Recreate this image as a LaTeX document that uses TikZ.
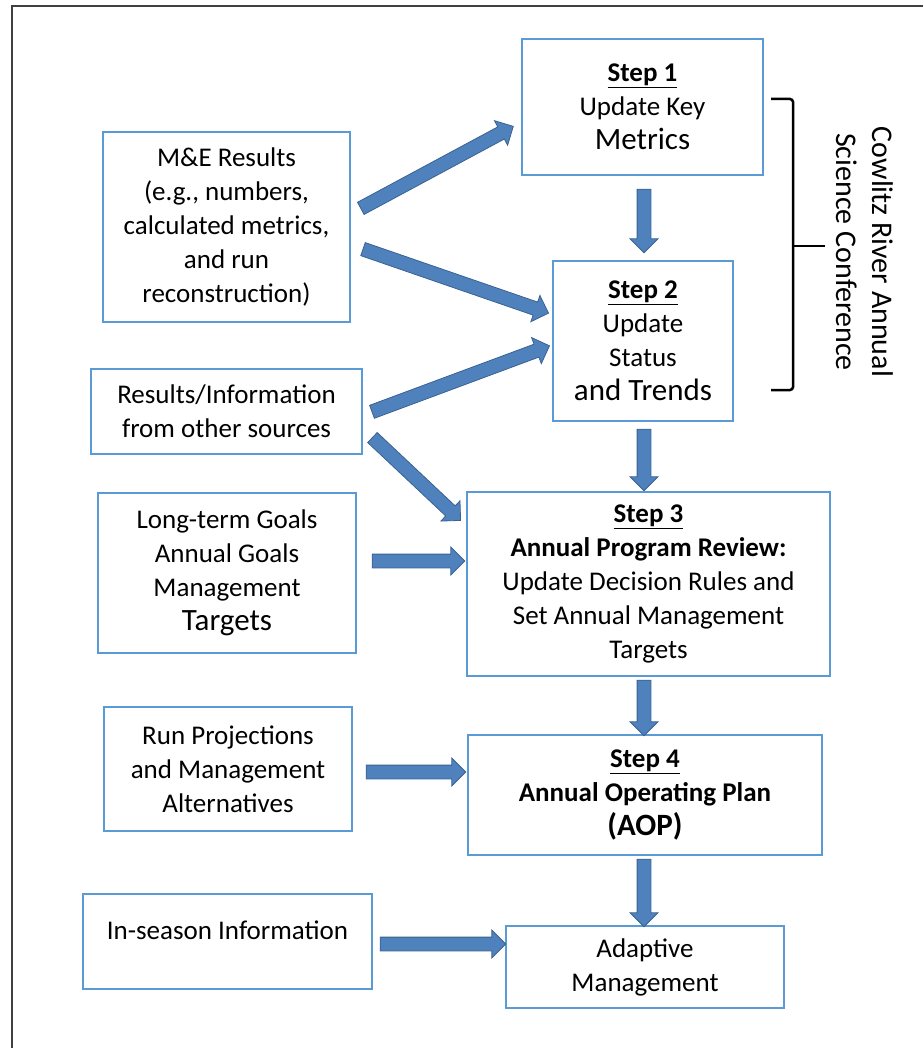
\documentclass[tikz,border=0pt]{standalone}
\usepackage{fontspec}
\setmainfont{Carlito}
\usetikzlibrary{shapes.arrows,calc}

\definecolor{boxblue}{RGB}{91,155,213}
\definecolor{arrowfill}{RGB}{79,129,189}
\definecolor{arrowline}{RGB}{58,98,145}

\tikzset{
	stepbox/.style={draw=boxblue, line width=1.5pt, align=center, inner sep=0pt,
		font=\fontsize{27}{34}\selectfont},
	blockarrow/.style={single arrow, draw=arrowline, fill=arrowfill, line width=0.8pt,
		inner xsep=0pt, inner ysep=6.5pt, single arrow head extend=7pt},
}
\newcommand{\steptitle}[1]{\underline{\textbf{#1}}}
\newcommand{\bigline}[1]{{\fontsize{31}{36}\selectfont #1}}
\newcommand{\flowarrow}[2]{%
	\path let \p1=#1, \p2=#2, \n1={atan2(\y2-\y1,\x2-\x1)}, \n2={veclen(\x2-\x1,\y2-\y1)} in
		node[blockarrow, minimum height=\n2, rotate=\n1] at ($(\p1)!0.5!(\p2)$) {};}

\begin{document}
\begin{tikzpicture}[x=1pt,y=-1pt]
		\useasboundingbox (0,0) rectangle (923,1048);
		\draw[line width=2pt, black!75] (923,6) -- (12,6) -- (12,1048);
		% the four steps
		\node[stepbox, minimum width=241pt, minimum height=136pt] (step1) at (642.5,107)
			{\steptitle{Step 1}\\Update Key\\\bigline{Metrics}};
		\node[stepbox, minimum width=180pt, minimum height=160pt] (step2) at (643,341)
			{\steptitle{Step 2}\\Update\\Status\\\bigline{and Trends}};
		\node[stepbox, minimum width=363pt, minimum height=184pt] (step3) at (648.5,584)
			{\steptitle{Step 3}\\\textbf{Annual Program Review:}\\Update Decision Rules and\\Set Annual Management\\Targets};
		\node[stepbox, minimum width=354pt, minimum height=120pt] (step4) at (645,795)
			{\steptitle{Step 4}\\\textbf{Annual Operating Plan}\\\bigline{\textbf{(AOP)}}};
		\node[stepbox, minimum width=278pt, minimum height=82pt] (adaptive) at (645,967)
			{Adaptive\\Management};
		% inputs on the left
		\node[stepbox, minimum width=247pt, minimum height=190pt] (results) at (226.5,227)
			{M\&E Results\\(e.g., numbers,\\calculated metrics,\\and run\\reconstruction)};
		\node[stepbox, minimum width=271pt, minimum height=85pt] (other) at (226.5,411.5)
			{Results/Information\\from other sources};
		\node[stepbox, minimum width=258pt, minimum height=160pt] (goals) at (227,573)
			{Long-term Goals\\Annual Goals\\Management\\\bigline{Targets}};
		\node[stepbox, minimum width=248pt, minimum height=124pt] (runproj) at (228,769)
			{Run Projections\\and Management\\Alternatives};
		\node[stepbox, minimum width=289pt, minimum height=95pt, text height=19pt, text depth=24pt] (inseason) at (227.5,941.5)
			{In-season Information};
		% bracket and its label
		\draw[line width=2.5pt, rounded corners=3pt] (771,99) -- (793,99) -- (793,390) -- (771,390);
		\draw[line width=2.5pt] (793,246) -- (825,246);
		\node[font=\fontsize{30}{36}\selectfont, align=center, rotate=-90] (conference) at (865,252)
			{Cowlitz River Annual\\Science Conference};
		% arrows
		\flowarrow{($(step1.south)+(1.5,10)$)}{($(step2.north)+(1,-11)$)}
		\flowarrow{($(step2.south)+(1,4)$)}{($(step3.north)+(-4.5,-4)$)}
		\flowarrow{($(step3.south)+(-4.5,0)$)}{($(step4.north)+(-1,-2)$)}
		\flowarrow{($(step4.south)+(-1,0)$)}{($(adaptive.north)+(-1,-2)$)}
		\flowarrow{($(results.east)+(7,-17)$)}{($(step1.west)+(-11,21)$)}
		\flowarrow{($(results.east)+(9,21)$)}{($(step2.west)+(-7,-29)$)}
		\flowarrow{($(other.east)+(6,1.5)$)}{($(step2.west)+(-6,6)$)}
		\flowarrow{($(other.east)+(7,23.5)$)}{($(step3.north west)+(-8,27)$)}
		\flowarrow{($(goals.east)+(12,-12)$)}{($(step3.west)+(-5,-23)$)}
		\flowarrow{($(runproj.east)+(10,3)$)}{($(step4.west)+(-5,-23)$)}
		\flowarrow{($(inseason.east)+(4,2.5)$)}{($(adaptive.west)+(-3,-23)$)}
	\end{tikzpicture}
\end{document}
